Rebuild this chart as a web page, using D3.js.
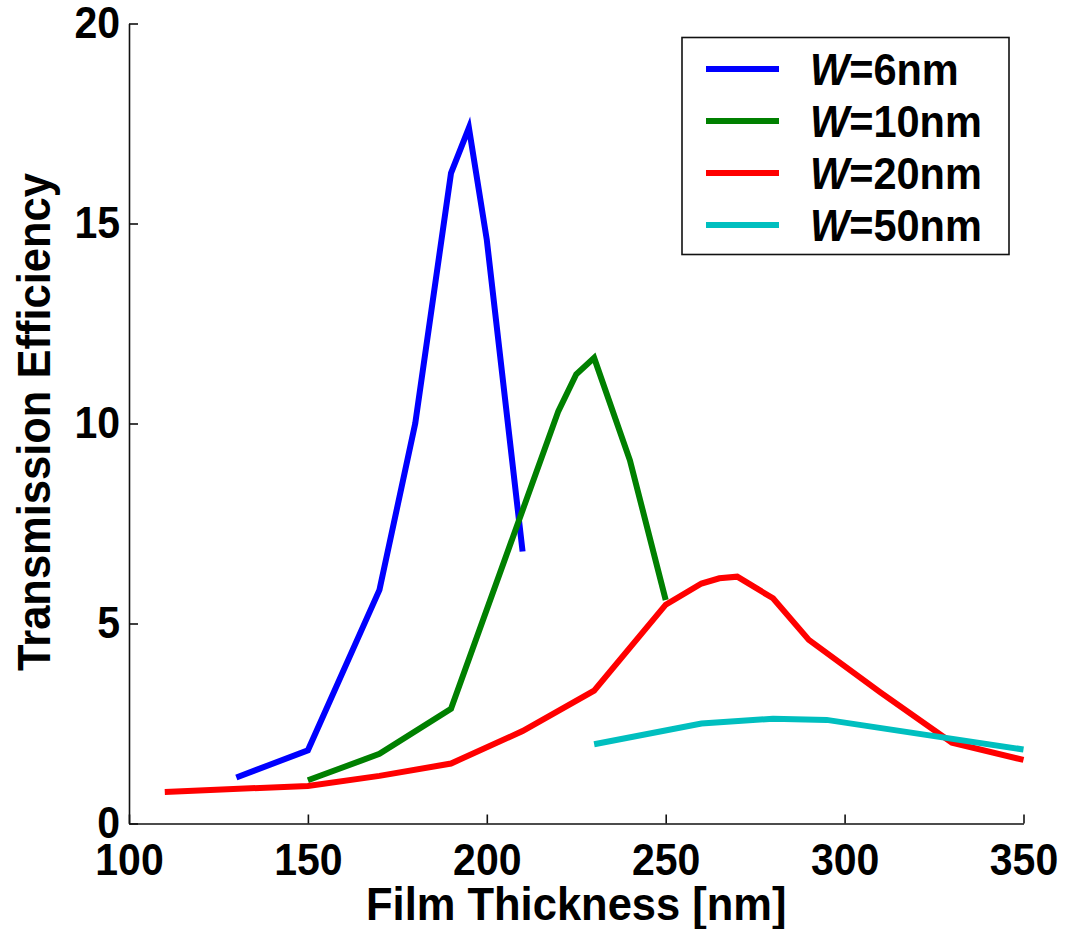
<!DOCTYPE html>
<html>
<head>
<meta charset="utf-8">
<script src="https://cdn.jsdelivr.net/npm/d3@7"></script>
<style>
  body { margin: 0; background: #fff; }
  text { font-family: "Liberation Sans", Arial, Helvetica, sans-serif; font-weight: bold; }
</style>
</head>
<body>
<div id="chart"></div>
<script>
const margin = { top: 23.5, right: 41.5, bottom: 105.5, left: 129 };
const width = 1065;
const height = 929;
const stretch = 1.08; // glyphs in the original are a little taller than wide

// data
const seriesNames = ["6nm", "10nm", "20nm", "50nm"];
const seriesColors = ["#0000ff", "#008000", "#ff0000", "#00bfbf"];

const w6x = [130, 150, 170, 180, 190, 195, 200, 210];
const w6y = [1.15, 1.83, 5.84, 10.0, 16.26, 17.39, 14.59, 6.8];

const w10x = [150, 170, 190, 220, 225, 230, 240, 250];
const w10y = [1.08, 1.74, 2.87, 10.31, 11.23, 11.64, 9.08, 5.59];

const w20x = [110, 150, 170, 190, 210, 230, 250, 260, 265, 270, 280, 290, 310, 330, 350];
const w20y = [0.79, 0.94, 1.19, 1.5, 2.31, 3.32, 5.47, 6.0, 6.13, 6.17, 5.63, 4.59, 3.28, 2.02, 1.59];

const w50x = [230, 260, 280, 295, 350];
const w50y = [1.98, 2.5, 2.62, 2.59, 1.85];

const xTicks = [100, 150, 200, 250, 300, 350];
const yTicks = [0, 5, 10, 15, 20];

const series = [
  { name: seriesNames[0], color: seriesColors[0], xs: w6x, ys: w6y },
  { name: seriesNames[1], color: seriesColors[1], xs: w10x, ys: w10y },
  { name: seriesNames[2], color: seriesColors[2], xs: w20x, ys: w20y },
  { name: seriesNames[3], color: seriesColors[3], xs: w50x, ys: w50y }
];

const svg = d3.select("#chart")
  .append("svg")
  .attr("width", width)
  .attr("height", height);

const x = d3.scaleLinear()
  .domain([100, 350])
  .range([margin.left, width - margin.right]);

const y = d3.scaleLinear()
  .domain([0, 20])
  .range([height - margin.bottom, margin.top]);

const line = d3.line()
  .x(d => x(d[0]))
  .y(d => y(d[1]));

// lines
svg.append("g")
  .selectAll("path")
  .data(series)
  .join("path")
    .attr("fill", "none")
    .attr("stroke", d => d.color)
    .attr("stroke-width", 6)
    .attr("d", d => line(d.xs.map((v, i) => [v, d.ys[i]])));

// axes, ticks pointing inward
const xAxis = svg.append("g")
  .attr("transform", `translate(0,${height - margin.bottom})`)
  .call(d3.axisBottom(x).tickValues(xTicks).tickSizeInner(-9).tickSizeOuter(0).tickPadding(19));

const yAxis = svg.append("g")
  .attr("transform", `translate(${margin.left},0)`)
  .call(d3.axisLeft(y).tickValues(yTicks).tickSizeInner(-9).tickSizeOuter(0).tickPadding(9));

[xAxis, yAxis].forEach(a => {
  a.select(".domain").attr("stroke", "#111").attr("stroke-width", 1.6);
  a.selectAll(".tick line").attr("stroke", "#111").attr("stroke-width", 1.6);
  a.selectAll(".tick text")
    .attr("fill", "#000")
    .attr("transform", `scale(1,${stretch})`)
    .style("font-size", "41px")
    .style("font-family", "'Liberation Sans', Arial, sans-serif")
    .style("font-weight", "bold");
});

// axis labels
svg.append("text")
  .attr("transform", `translate(${(margin.left + width - margin.right) / 2},920) scale(1,${stretch})`)
  .attr("text-anchor", "middle")
  .style("font-size", "43.5px")
  .text("Film Thickness [nm]");

svg.append("text")
  .attr("transform", `translate(50,422) rotate(-90) scale(1,${stretch})`)
  .attr("text-anchor", "middle")
  .style("font-size", "43.5px")
  .text("Transmission Efficiency");

// legend
const legend = svg.append("g").attr("class", "legend");

legend.append("rect")
  .attr("x", 682)
  .attr("y", 37.5)
  .attr("width", 327)
  .attr("height", 217)
  .attr("fill", "#fff")
  .attr("stroke", "#111")
  .attr("stroke-width", 1.6);

const item = legend.selectAll(".item")
  .data(series)
  .join("g")
    .attr("class", "item")
    .attr("transform", (d, i) => `translate(0,${69 + i * 52})`);

item.append("line")
  .attr("x1", 706)
  .attr("x2", 779)
  .attr("stroke", d => d.color)
  .attr("stroke-width", 6);

const label = item.append("text")
  .attr("transform", `translate(810,16) scale(1,${stretch})`)
  .style("font-size", "41.5px");

label.append("tspan").style("font-style", "italic").text("W");
label.append("tspan").text(d => "=" + d.name);
</script>
</body>
</html>
